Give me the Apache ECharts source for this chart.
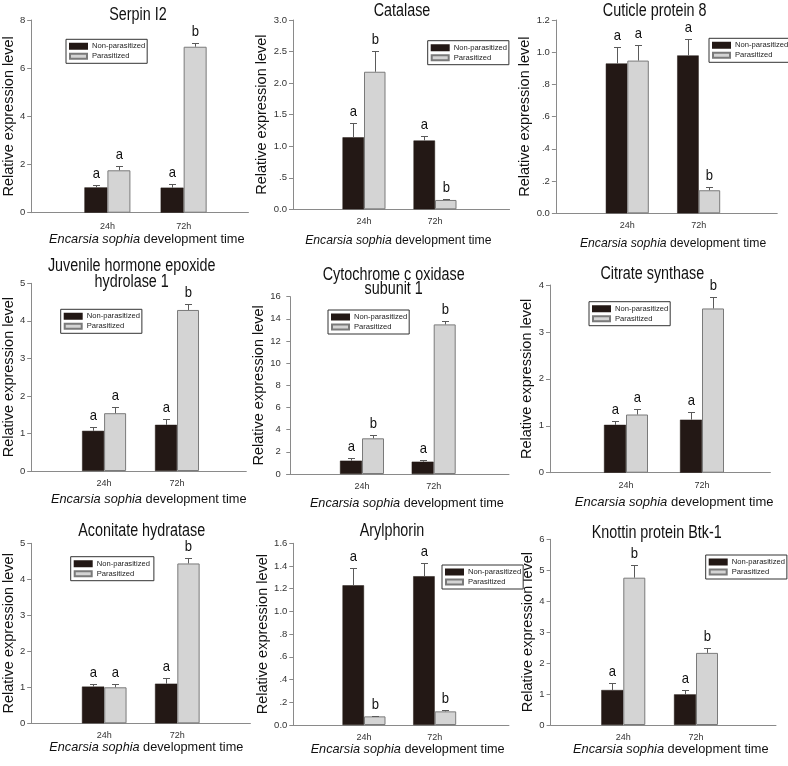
<!DOCTYPE html>
<html>
<head>
<meta charset="utf-8">
<script src="https://cdn.jsdelivr.net/npm/echarts@6/dist/echarts.min.js"></script>
<style>html,body{margin:0;padding:0;background:#fff}#c{width:788px;height:766px}</style>
</head>
<body>
<div id="c"></div>
<script>
// ---- data ----
const panelTitles = ['Serpin I2', 'Catalase', 'Cuticle protein 8',
  'Juvenile hormone epoxide\nhydrolase 1', 'Cytochrome c oxidase\nsubunit 1', 'Citrate synthase',
  'Aconitate hydratase', 'Arylphorin', 'Knottin protein Btk-1'];
const timePoints = ['24h', '72h'];
const seriesNames = ['Non-parasitized', 'Parasitized'];
const yAxisName = 'Relative expression level';
const xAxisItalic = 'Encarsia sophia';
const xAxisRest = ' development time';
const nonParasitized    = [[1.05, 1.04], [1.14, 1.09], [0.93, 0.98], [1.07, 1.23], [1.20, 1.11], [1.02, 1.13], [1.02, 1.10], [1.23, 1.31], [1.13, 0.99]];
const nonParasitizedErr = [[0.09, 0.14], [0.22, 0.07], [0.10, 0.10], [0.11, 0.15], [0.21, 0.15], [0.09, 0.16], [0.07, 0.15], [0.15, 0.12], [0.22, 0.14]];
const parasitized       = [[1.76, 6.89], [2.18, 0.148], [0.948, 0.143], [1.54, 4.29], [3.22, 13.5], [1.24, 3.50], [1.00, 4.44], [0.076, 0.12], [4.76, 2.33]];
const parasitizedErr    = [[0.17, 0.16], [0.33, 0.015], [0.097, 0.018], [0.16, 0.15], [0.27, 0.27], [0.12, 0.25], [0.08, 0.16], [0.006, 0.012], [0.41, 0.15]];
const lettersNP = [['a', 'a'], ['a', 'a'], ['a', 'a'], ['a', 'a'], ['a', 'a'], ['a', 'a'], ['a', 'a'], ['a', 'a'], ['a', 'a']];
const lettersP  = [['a', 'b'], ['b', 'b'], ['a', 'b'], ['a', 'b'], ['b', 'b'], ['a', 'b'], ['a', 'b'], ['b', 'b'], ['b', 'b']];
const yMax  = [8, 3, 1.2, 5, 16, 4, 5, 1.6, 6];
const yStep = [2, 0.5, 0.2, 1, 2, 1, 1, 0.2, 1];

// ---- layout (styling only) ----
const layout = [
  {c1: 106,   s: 77,   xmin: 0,     xmax: 2.85, top: 20,    bottom: 212.7, bw: 23,   yGap: 14, xGap: 20,   xs: 7,   xf: 12.8, lm: 9, tx: 138,   ty: 15.5, lh: 16, lg: [66, 39.3, 82]},
  {c1: 364,   s: 71,   xmin: 0,     xmax: 3.05, top: 20,    bottom: 209.3, bw: 21.5, yGap: 20, xGap: 25.5, xs: -3,  xf: 12.2, lm: 8, tx: 402,   ty: 11,   lh: 16, lg: [427.7, 40.7, 80]},
  {c1: 627.3, s: 71.4, xmin: 0,     xmax: 3.1,  top: 20,    bottom: 213.3, bw: 21.5, yGap: 17, xGap: 24,   xs: 6.5, xf: 12.2, lm: 8, tx: 654.7, ty: 11,   lh: 16, lg: [709, 38.3, 74]},
  {c1: 102,   s: 74,   xmin: 0,     xmax: 2.95, top: 283.3, bottom: 471,   bw: 22,   yGap: 14, xGap: 22,   xs: 10,  xf: 12.8, lm: 8, tx: 131.7, ty: 274,  lh: 16, lg: [60.7, 309.3, 79]},
  {c1: 362,   s: 71.7, xmin: -0.05, xmax: 3.05, top: 296.7, bottom: 474,   bw: 22,   yGap: 15, xGap: 22.5, xs: 9,   xf: 12.7, lm: 8, tx: 393.7, ty: 282, lh: 14.5, lg: [328, 310, 76]},
  {c1: 626,   s: 76,   xmin: 0,     xmax: 2.9,  top: 285,   bottom: 472.7, bw: 22,   yGap: 11.5, xGap: 23.5, xs: 14, xf: 13,  lm: 8, tx: 652.3, ty: 274,  lh: 16, lg: [589, 301.7, 75]},
  {c1: 103,   s: 73.7, xmin: 0,     xmax: 3.0,  top: 543.3, bottom: 723.3, bw: 22.3, yGap: 14, xGap: 18,   xs: 5.5, xf: 12.7, lm: 8, tx: 141.7, ty: 531,  lh: 16, lg: [70.7, 556.7, 84]},
  {c1: 364,   s: 70.7, xmin: 0,     xmax: 3.05, top: 543.3, bottom: 725,   bw: 21.5, yGap: 22, xGap: 18,   xs: 6.5, xf: 12.7, lm: 8, tx: 392,   ty: 531.5, lh: 16, lg: [442, 565, 78]},
  {c1: 623.3, s: 72.7, xmin: 0,     xmax: 3.1,  top: 539.3, bottom: 725,   bw: 22,   yGap: 11.5, xGap: 18, xs: 7.5, xf: 12.8, lm: 8, tx: 656.7, ty: 533, lh: 16, lg: [705.7, 555, 78]}
];

const SANS = '"Liberation Sans", Arial, sans-serif';
const AXIS_COLOR = '#8a8a8a';
const DARK = '#231815';
const LIGHT = '#d4d4d4';
const ERR = '#5a5a5a';
const TITLE_SQUEEZE = 0.82;

function yFmt(step) {
  return function (v) {
    if (step >= 1) return String(Math.round(v));
    if (Math.abs(v) < 1e-9) return '0.0';
    let s = v.toFixed(1);
    if (v < 1) s = s.replace(/^0/, '');
    return s;
  };
}
function xFmt(v) {
  for (let j = 0; j < timePoints.length; j++) {
    if (Math.abs(v - (j + 1)) < 1e-6) return timePoints[j];
  }
  return '';
}

const grid = [], xAxis = [], yAxis = [], series = [], legend = [], graphic = [];
layout.forEach((L, i) => {
  grid.push({
    left: L.c1 - (1 - L.xmin) * L.s,
    top: L.top,
    width: (L.xmax - L.xmin) * L.s,
    height: L.bottom - L.top,
    containLabel: false
  });
  const pad = L.xs >= 0 ? [0, 0, 0, 2 * L.xs] : [0, -2 * L.xs, 0, 0];
  xAxis.push({
    type: 'value', gridIndex: i, min: L.xmin, max: L.xmax, interval: 0.05,
    axisLine: {show: true, lineStyle: {color: AXIS_COLOR, width: 1}},
    axisTick: {show: false}, splitLine: {show: false},
    axisLabel: {formatter: xFmt, fontSize: 9, fontFamily: SANS, color: '#333', margin: L.lm, showMinLabel: false, showMaxLabel: false},
    name: '{i|' + xAxisItalic + '}{r|' + xAxisRest + '}',
    nameLocation: 'middle', nameGap: L.xGap,
    nameTextStyle: {fontSize: L.xf, fontFamily: SANS, color: '#111', padding: pad,
      rich: {i: {fontStyle: 'italic', fontSize: L.xf, fontFamily: SANS, color: '#111'},
             r: {fontSize: L.xf, fontFamily: SANS, color: '#111'}}}
  });
  yAxis.push({
    type: 'value', gridIndex: i, min: 0, max: yMax[i], interval: yStep[i],
    axisLine: {show: true, lineStyle: {color: AXIS_COLOR, width: 1}},
    axisTick: {show: true, length: 4, lineStyle: {color: AXIS_COLOR}},
    splitLine: {show: false},
    axisLabel: {formatter: yFmt(yStep[i]), fontSize: 9.5, fontFamily: SANS, color: '#333', margin: 6},
    name: yAxisName, nameLocation: 'middle', nameGap: L.yGap,
    nameTextStyle: {fontSize: 14.5, fontFamily: SANS, color: '#111'}
  });
  series.push({
    type: 'bar', name: seriesNames[0], xAxisIndex: i, yAxisIndex: i,
    barWidth: L.bw, barGap: '0%',
    data: timePoints.map((t, j) => [j + 1, nonParasitized[i][j]]),
    itemStyle: {color: DARK, borderColor: DARK, borderWidth: 0.5},
    emphasis: {disabled: true}
  });
  series.push({
    type: 'bar', name: seriesNames[1], xAxisIndex: i, yAxisIndex: i,
    barWidth: L.bw, barGap: '0%',
    data: timePoints.map((t, j) => [j + 1, parasitized[i][j]]),
    itemStyle: {color: LIGHT, borderColor: '#7a7a7a', borderWidth: 1},
    emphasis: {disabled: true}
  });
  [[nonParasitized, nonParasitizedErr, lettersNP, -1], [parasitized, parasitizedErr, lettersP, 1]].forEach(g => {
    const vals = g[0][i], errs = g[1][i], lets = g[2][i], side = g[3];
    series.push({
      type: 'custom', xAxisIndex: i, yAxisIndex: i, z: 5, silent: true,
      data: timePoints.map((t, j) => [j + 1, vals[j], errs[j]]),
      renderItem: function (params, api) {
        const x = api.value(0), v = api.value(1), e = api.value(2);
        const base = api.coord([x, v]);
        const top = api.coord([x, v + e]);
        const cx = Math.round(base[0] + side * L.bw / 2) + 0.5;
        const ty = Math.round(top[1]) + 0.5;
        return {type: 'group', children: [
          {type: 'line', shape: {x1: cx, y1: base[1], x2: cx, y2: ty}, style: {stroke: ERR, lineWidth: 1}},
          {type: 'line', shape: {x1: cx - 3.5, y1: ty, x2: cx + 3.5, y2: ty}, style: {stroke: ERR, lineWidth: 1}},
          {type: 'text', x: cx, y: ty - 4, scaleX: 0.9, style: {text: lets[params.dataIndex], textAlign: 'center', textVerticalAlign: 'bottom',
            fontSize: 14.5, fontFamily: SANS, fill: '#111'}}
        ]};
      }
    });
  });
  legend.push({
    left: L.lg[0], top: L.lg[1], orient: 'vertical',
    data: seriesNames, icon: 'rect', itemWidth: 17, itemHeight: 5, itemGap: 0,
    padding: [2, Math.max(2, L.lg[2] - 80), 2, 3],
    borderColor: '#333', borderWidth: 1, backgroundColor: '#fff',
    textStyle: {fontSize: 7.6, fontFamily: SANS, color: '#222', lineHeight: 10},
    selectedMode: false
  });
  graphic.push({
    type: 'text', x: L.tx, y: L.ty, scaleX: TITLE_SQUEEZE, silent: true,
    style: {text: panelTitles[i], textAlign: 'center', textVerticalAlign: 'middle',
      fontSize: 17.5, fontFamily: SANS, fill: '#111', lineHeight: L.lh}
  });
});

const chart = echarts.init(document.getElementById('c'), null, {renderer: 'canvas'});
chart.setOption({
  animation: false,
  backgroundColor: '#fff',
  grid, xAxis, yAxis, series, legend, graphic
});
</script>
</body>
</html>
